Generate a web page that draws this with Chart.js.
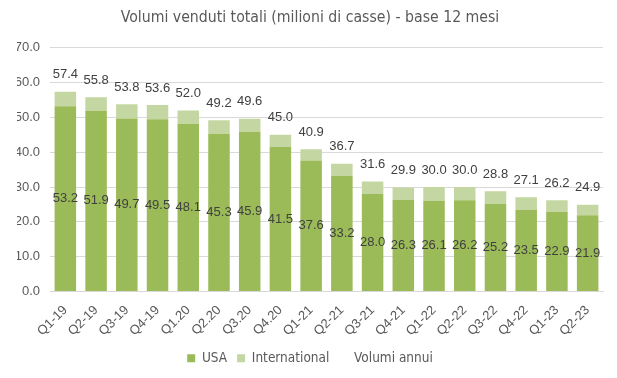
<!DOCTYPE html>
<html>
<head>
<meta charset="utf-8">
<script src="https://cdn.jsdelivr.net/npm/chart.js@4/dist/chart.umd.min.js"></script>
<style>
html,body{margin:0;padding:0;background:#fff;}
#wrap{width:617px;height:378px;position:relative;}
</style>
</head>
<body>
<div id="wrap"><canvas id="c" width="617" height="378"></canvas></div>
<script>
const categories = ["Q1-19","Q2-19","Q3-19","Q4-19","Q1.20","Q2.20","Q3.20","Q4.20","Q1-21","Q2-21","Q3-21","Q4-21","Q1-22","Q2-22","Q3-22","Q4-22","Q1-23","Q2-23"];
const usaValues = [53.2,51.9,49.7,49.5,48.1,45.3,45.9,41.5,37.6,33.2,28.0,26.3,26.1,26.2,25.2,23.5,22.9,21.9];
const totalValues = [57.4,55.8,53.8,53.6,52.0,49.2,49.6,45.0,40.9,36.7,31.6,29.9,30.0,30.0,28.8,27.1,26.2,24.9];
const internationalValues = totalValues.map((t,i)=>Math.round((t-usaValues[i])*10)/10);
const yTicks = [0,10,20,30,40,50,60,70];

const labelPlugin = {
  id:'valueLabels',
  afterDatasetsDraw(chart){
    const ctx = chart.ctx;
    ctx.save();
    ctx.font = '13px "Liberation Sans", Arial, sans-serif';
    ctx.fillStyle = '#404040';
    ctx.textAlign = 'center';
    ctx.textBaseline = 'middle';
    const m0 = chart.getDatasetMeta(0);
    m0.data.forEach((el,i)=>{
      const cy = (el.y + el.base)/2;
      ctx.fillText(usaValues[i].toFixed(1), el.x, cy);
    });
    const m2 = chart.getDatasetMeta(2);
    m2.data.forEach((el,i)=>{
      ctx.fillText(totalValues[i].toFixed(1), el.x, el.y - 17);
    });
    ctx.restore();
  }
};

new Chart(document.getElementById('c'), {
  data:{
    labels: categories,
    datasets:[
      {type:'bar', label:'USA', data:usaValues, backgroundColor:'#9bbb59', stack:'s', order:2},
      {type:'bar', label:'International', data:internationalValues, backgroundColor:'#c4d7a2', stack:'s', order:2},
      {type:'line', label:'Volumi annui', data:totalValues, borderColor:'rgba(0,0,0,0)', backgroundColor:'rgba(0,0,0,0)', pointRadius:0, showLine:false, order:1}
    ]
  },
  options:{
    responsive:false,
    animation:false,
    layout:{padding:{left:17,right:14,top:0,bottom:3}},
    datasets:{bar:{categoryPercentage:0.7, barPercentage:1.0}},
    plugins:{
      title:{display:true, text:'Volumi venduti totali (milioni di casse) - base 12 mesi', color:'#595959',
        font:{family:'"Liberation Sans Narrow", "DejaVu Sans Condensed", sans-serif', size:15.7, weight:'normal'}, padding:{top:9,bottom:20}},
      legend:{position:'bottom', labels:{color:'#595959', boxWidth:8, boxHeight:8, padding:10,
        sort:(a,b)=>a.datasetIndex-b.datasetIndex,
        font:{family:'"Liberation Sans Narrow", "DejaVu Sans Condensed", sans-serif', size:13.5}}},
      tooltip:{enabled:false}
    },
    scales:{
      x:{stacked:true, grid:{display:false, drawTicks:false}, border:{color:'#d9d9d9'},
        afterFit(s){ s.height = 50; },
        ticks:{color:'#595959', minRotation:45, maxRotation:45, padding:11, font:{family:'"Liberation Sans", Arial, sans-serif', size:13}}},
      y:{stacked:true, min:0, max:70, grid:{color:'#d9d9d9', drawTicks:false}, border:{display:false},
        afterBuildTicks(s){ s.ticks = yTicks.map(v=>({value:v})); },
        afterFit(s){ s.width = 33; },
        ticks:{color:'#595959', padding:10, callback:v=>Number(v).toFixed(1), font:{family:'"Liberation Sans", Arial, sans-serif', size:13}}}
    }
  },
  plugins:[labelPlugin]
});
</script>
</body>
</html>
